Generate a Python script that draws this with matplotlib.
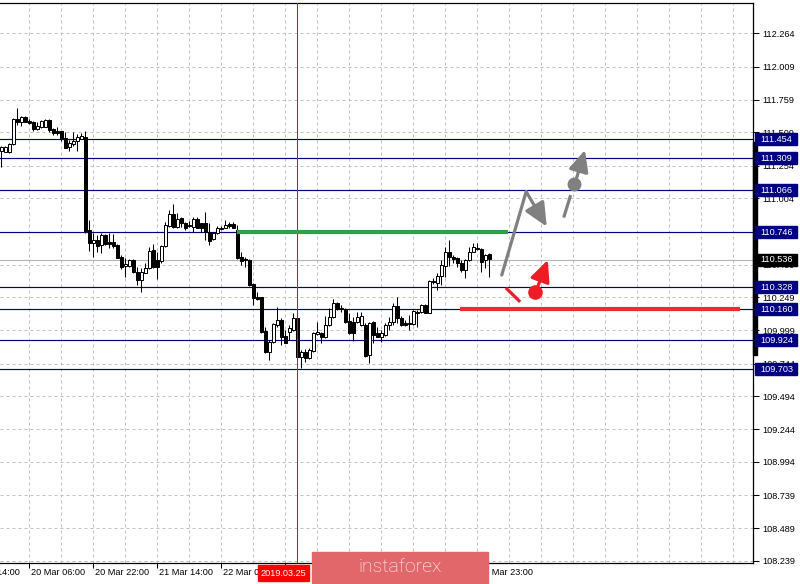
import numpy as np
import matplotlib.pyplot as plt
from matplotlib.patches import Rectangle
import matplotlib.transforms as mtransforms

# USD/JPY H1 candles (open, high, low, close)
opens = [111.369, 111.361, 111.356, 111.417, 111.608, 111.590, 111.628, 111.598, 111.588, 111.531,
         111.547, 111.552, 111.603, 111.531, 111.516, 111.516, 111.463, 111.394, 111.419, 111.445,
         111.460, 111.476, 110.764, 110.666, 110.687, 110.647, 110.723, 110.672, 110.672, 110.649,
         110.560, 110.489, 110.492, 110.535, 110.441, 110.382, 110.438, 110.472, 110.611, 110.535,
         110.527, 110.641, 110.794, 110.886, 110.784, 110.853, 110.819, 110.802, 110.784, 110.845,
         110.815, 110.815, 110.751, 110.692, 110.739, 110.771, 110.781, 110.809, 110.809, 110.764,
         110.556, 110.540, 110.535, 110.352, 110.250, 110.250, 109.996, 109.835, 109.912, 110.039,
         110.077, 109.956, 109.988, 110.001, 110.090, 109.797, 109.835, 109.785, 109.843, 109.971,
         109.980, 109.945, 110.039, 110.098, 110.208, 110.166, 110.158, 110.072, 110.064, 110.064,
         110.039, 110.039, 109.810, 110.064, 109.976, 109.950, 109.963, 110.039, 110.064, 110.184,
         110.092, 110.052, 110.052, 110.046, 110.140, 110.136, 110.188, 110.132, 110.375, 110.362,
         110.413, 110.489, 110.598, 110.560, 110.548, 110.510, 110.459, 110.535, 110.598, 110.624,
         110.616, 110.535, 110.580]
highs = [111.404, 111.404, 111.429, 111.616, 111.692, 111.633, 111.633, 111.608, 111.598, 111.588,
         111.603, 111.608, 111.608, 111.539, 111.552, 111.521, 111.513, 111.450, 111.513, 111.496,
         111.501, 111.521, 110.840, 110.739, 110.726, 110.739, 110.733, 110.739, 110.733, 110.656,
         110.573, 110.548, 110.540, 110.540, 110.484, 110.472, 110.510, 110.636, 110.656, 110.598,
         110.647, 110.827, 110.916, 110.959, 110.891, 110.865, 110.827, 110.835, 110.865, 110.860,
         110.819, 110.903, 110.815, 110.751, 110.794, 110.794, 110.840, 110.825, 110.825, 110.802,
         110.598, 110.560, 110.540, 110.362, 110.293, 110.255, 110.026, 109.925, 110.052, 110.174,
         110.090, 110.001, 110.039, 110.128, 110.128, 109.848, 109.854, 109.861, 109.988, 110.064,
         109.988, 110.107, 110.166, 110.235, 110.215, 110.191, 110.166, 110.128, 110.102, 110.140,
         110.140, 110.052, 110.064, 110.072, 110.026, 110.001, 110.052, 110.102, 110.204, 110.255,
         110.107, 110.077, 110.115, 110.153, 110.153, 110.199, 110.199, 110.382, 110.395, 110.434,
         110.535, 110.636, 110.687, 110.573, 110.560, 110.535, 110.540, 110.636, 110.662, 110.662,
         110.624, 110.578, 110.585]
lows = [111.247, 111.356, 111.353, 111.414, 111.565, 111.557, 111.588, 111.572, 111.521, 111.526,
        111.542, 111.547, 111.513, 111.490, 111.486, 111.445, 111.387, 111.369, 111.404, 111.369,
        111.455, 110.739, 110.606, 110.560, 110.598, 110.586, 110.649, 110.624, 110.624, 110.548,
        110.464, 110.403, 110.484, 110.438, 110.344, 110.293, 110.434, 110.464, 110.472, 110.390,
        110.514, 110.636, 110.789, 110.776, 110.776, 110.789, 110.764, 110.789, 110.751, 110.776,
        110.751, 110.690, 110.649, 110.687, 110.733, 110.764, 110.776, 110.779, 110.776, 110.540,
        110.497, 110.479, 110.336, 110.191, 110.230, 109.980, 109.823, 109.772, 109.904, 110.026,
        109.886, 109.900, 109.925, 109.996, 109.792, 109.709, 109.759, 109.777, 109.835, 109.963,
        109.900, 109.937, 110.031, 110.090, 110.153, 110.140, 110.052, 109.971, 109.920, 110.052,
        110.031, 109.792, 109.751, 109.900, 109.945, 109.912, 109.956, 110.001, 110.039, 110.052,
        110.031, 110.031, 110.001, 110.039, 110.026, 110.130, 110.128, 110.130, 110.349, 110.306,
        110.344, 110.408, 110.489, 110.509, 110.484, 110.446, 110.395, 110.527, 110.596, 110.611,
        110.446, 110.472, 110.408]
closes = [111.399, 111.399, 111.419, 111.608, 111.590, 111.628, 111.590, 111.582, 111.531, 111.557,
          111.593, 111.603, 111.526, 111.501, 111.501, 111.463, 111.392, 111.429, 111.445, 111.470,
          111.481, 110.756, 110.666, 110.687, 110.641, 110.723, 110.656, 110.656, 110.641, 110.553,
          110.479, 110.502, 110.535, 110.441, 110.382, 110.441, 110.472, 110.603, 110.484, 110.484,
          110.641, 110.802, 110.886, 110.784, 110.845, 110.815, 110.776, 110.794, 110.845, 110.781,
          110.781, 110.751, 110.682, 110.743, 110.776, 110.781, 110.804, 110.794, 110.779, 110.548,
          110.530, 110.535, 110.344, 110.242, 110.240, 109.988, 109.835, 109.912, 110.046, 110.077,
          109.950, 109.904, 110.014, 110.090, 109.797, 109.835, 109.785, 109.848, 109.976, 109.988,
          109.945, 110.039, 110.098, 110.208, 110.158, 110.158, 110.064, 109.976, 109.976, 110.098,
          110.107, 109.803, 110.056, 109.963, 109.950, 109.976, 110.039, 110.064, 110.184, 110.090,
          110.039, 110.039, 110.044, 110.146, 110.128, 110.188, 110.130, 110.375, 110.370, 110.413,
          110.497, 110.598, 110.560, 110.540, 110.510, 110.459, 110.535, 110.598, 110.636, 110.616,
          110.522, 110.573, 110.540]

# support / resistance levels
levels = [111.454, 111.309, 111.066, 110.746, 110.328, 110.160, 109.924, 109.703]
current_price = 110.536
green_level = 110.746
green_span = [58.9, 126.7]
red_level = 110.160
red_span = [114.7, 184.7]
date_line_bar = 74

# price scale grid and labels (110.749 sits fully under the 110.746 box)
price_grid = [112.264, 112.009, 111.759, 111.509, 111.254, 111.004, 110.749, 110.499, 110.249,
              109.999, 109.744, 109.494, 109.244, 108.994, 108.739, 108.489, 108.239]
hidden_ticks = [110.749]

# time labels (bar index of label); the ones under the date box / logo are not shown
time_label_bars = [-9, 7, 23, 39, 55, 71, 87, 103, 119]
time_labels = ['19 Mar 14:00', '20 Mar 06:00', '20 Mar 22:00', '21 Mar 14:00', '22 Mar 06:00',
               '', '', '', '26 Mar 23:00']
grid_bars = list(range(7, 188, 8))

# forecast arrows (bar index, price)
gray_path_x = [125.1, 131.2, 136.35]
gray_path_y = [110.420, 111.056, 110.789]
gray_dash_x = [140.7, 142.2]
gray_dash_y = [110.870, 111.018]
gray_dot = [143.25, 111.112]
gray_arrow_x = [143.7, 145.9]
gray_arrow_y = [111.150, 111.374]
red_dash_x = [126.4, 129.4]
red_dash_y = [110.314, 110.224]
red_dot = [133.4, 110.288]
red_arrow_x = [134.2, 136.6]
red_arrow_y = [110.340, 110.535]

FONT = 'Liberation Sans'
FS = 6.6
NAVY = '#000080'
GRAY = '#808080'
RED = '#ee1c25'

fig = plt.figure(figsize=(8, 5.84), dpi=100)
ax = fig.add_axes([0, 1 - 563.3 / 584, 753 / 800, (563.3 - 2.5) / 584])
ax.set_xlim(-0.325, 187.9)
ax.set_ylim(108.221, 112.499)

# grid
ax.set_xticks(grid_bars)
ax.set_xticklabels([])
ax.tick_params(axis='x', length=0)
ax.yaxis.tick_right()
ax.set_yticks(price_grid)
ax.set_yticklabels(['' if v in hidden_ticks else f'{v:.3f}' for v in price_grid],
                   fontsize=FS, family=FONT)
ax.tick_params(axis='y', length=4, width=0.75, pad=3)
ax.grid(True, linestyle=(0, (3, 3)), color='#c0c0c0', lw=0.72, zorder=0)
ax.set_axisbelow(True)

for s in ['top', 'right', 'bottom']:
    ax.spines[s].set_linewidth(0.9)
ax.spines['left'].set_visible(False)

# horizontal levels
for v in levels:
    ax.axhline(v, color=NAVY, lw=0.85, zorder=2)
ax.axhline(current_price, color='#b4b4b4', lw=0.8, zorder=1.5)

# candles
x = np.arange(len(opens))
o = np.array(opens)
h = np.array(highs)
l = np.array(lows)
c = np.array(closes)
up = c >= o
ax.vlines(x, l, h, color='black', lw=0.75, zorder=3)
ax.bar(x, np.maximum(np.abs(c - o), 0.002), bottom=np.minimum(o, c), width=0.68,
       color=np.where(up, 'white', 'black'), edgecolor='black', lw=0.72, zorder=4)

# date line
ax.axvline(date_line_bar, color='#ff0000', lw=0.75, zorder=5)

# green / red trade levels
ax.plot(green_span, [green_level, green_level], color='#2ca24c', lw=3.0, zorder=6,
        solid_capstyle='butt')
ax.plot(red_span, [red_level, red_level], color='#ee2a35', lw=3.0, zorder=6,
        solid_capstyle='butt')

# forecast arrows
head = '-|>,head_length=0.65,head_width=0.3'
ax.plot(gray_path_x[:2], gray_path_y[:2], color=GRAY, lw=2.3, zorder=7, solid_capstyle='round')
ax.annotate('', xy=(gray_path_x[2], gray_path_y[2]), xytext=(gray_path_x[1], gray_path_y[1]),
            arrowprops=dict(arrowstyle=head, color=GRAY, lw=2.3, mutation_scale=22,
                            shrinkA=0, shrinkB=0), zorder=7)
ax.plot(gray_dash_x, gray_dash_y, color=GRAY, lw=2.3, zorder=7)
ax.plot(*gray_dot, 'o', color=GRAY, ms=9, zorder=7)
ax.annotate('', xy=(gray_arrow_x[1], gray_arrow_y[1]), xytext=(gray_arrow_x[0], gray_arrow_y[0]),
            arrowprops=dict(arrowstyle=head, color=GRAY, lw=2.3, mutation_scale=20,
                            shrinkA=0, shrinkB=0), zorder=7)
ax.plot(red_dash_x, red_dash_y, color=RED, lw=2.3, zorder=7)
ax.plot(*red_dot, 'o', color=RED, ms=9.5, zorder=7)
ax.annotate('', xy=(red_arrow_x[1], red_arrow_y[1]), xytext=(red_arrow_x[0], red_arrow_y[0]),
            arrowprops=dict(arrowstyle=head, color=RED, lw=2.3, mutation_scale=20,
                            shrinkA=0, shrinkB=0), zorder=7)

# time labels and ticks
xform = ax.get_xaxis_transform()
ax.vlines([b for b in time_label_bars if b >= 0], -0.008, 0, transform=xform, color='black',
          lw=0.75, clip_on=False)
for b, t in zip(time_label_bars, time_labels):
    if t:
        ax.text(b + 0.3, -0.0075, t, transform=xform, ha='left', va='top', fontsize=FS,
                family=FONT, clip_on=False)

# price scale bar and level labels
yform = mtransforms.blended_transform_factory(ax.transAxes, ax.transData)
ax.add_patch(Rectangle((1.0006, 0.3714), 0.0046, 0.38, transform=ax.transAxes,
                       color='black', clip_on=False, zorder=8))
box_h = 12 * (112.499 - 108.221) / 560.8
for v, col in [(lv, NAVY) for lv in levels] + [(current_price, 'black')]:
    ax.add_patch(Rectangle((755 / 753, v - box_h / 2), 42 / 753, box_h, transform=yform,
                           color=col, clip_on=False, zorder=9))
    ax.text(760.5 / 753, v, f'{v:.3f}', transform=yform, ha='left', va='center',
            fontsize=FS, family=FONT, color='white', clip_on=False, zorder=10)

# date marker box
fig.add_artist(Rectangle((258 / 800, 1 - 581 / 584), 51 / 800, 16 / 584,
                         transform=fig.transFigure, color='#ff0000', zorder=10))
fig.text(283.5 / 800, 1 - 573 / 584, '2019.03.25', ha='center', va='center', fontsize=FS,
         family=FONT, color='white', zorder=11)

# logo
fig.add_artist(Rectangle((312 / 800, 1 - 583 / 584), 176 / 800, 31 / 584,
                         transform=fig.transFigure, color='#e2676b', zorder=10))
fig.text(400 / 800, 1 - 567 / 584, 'instaforex', ha='center', va='center', fontsize=14,
         family='Roboto', fontweight='light', color='white', zorder=11)

fig.savefig('out.png', dpi=100)
